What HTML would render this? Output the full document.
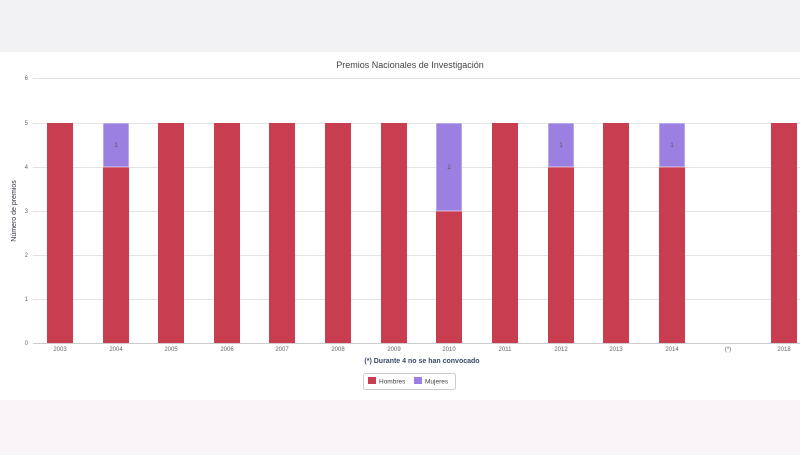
<!DOCTYPE html>
<html><head><meta charset="utf-8"><style>
body{margin:0;width:800px;height:450px;overflow:hidden;background:#f6f5f7;font-family:"Liberation Sans",sans-serif}
</style></head><body>
<svg width="800" height="450" xmlns="http://www.w3.org/2000/svg" font-family="Liberation Sans, sans-serif">
<rect x="0" y="0" width="800" height="52" fill="#f2f2f4"/>
<rect x="0" y="52" width="800" height="348" fill="#ffffff"/>
<rect x="0" y="400" width="800" height="50" fill="#f8f4f7"/>
<text x="410" y="68" font-size="9" fill="#444" text-anchor="middle">Premios Nacionales de Investigación</text>
<g stroke="#e3e3e3" stroke-width="1">
<line x1="33" x2="800" y1="78.5" y2="78.5"/><line x1="33" x2="800" y1="123.5" y2="123.5"/>
<line x1="33" x2="800" y1="167.5" y2="167.5"/><line x1="33" x2="800" y1="211.5" y2="211.5"/>
<line x1="33" x2="800" y1="255.5" y2="255.5"/><line x1="33" x2="800" y1="299.5" y2="299.5"/>
<line x1="33" x2="800" y1="343.5" y2="343.5" stroke="#ccc"/>
</g>
<g font-size="6" fill="#666" text-anchor="end">
<text x="28" y="80">6</text><text x="28" y="125">5</text><text x="28" y="169">4</text>
<text x="28" y="213">3</text><text x="28" y="257">2</text><text x="28" y="301">1</text><text x="28" y="345">0</text>
</g>
<text transform="translate(16,211) rotate(-90)" font-size="7" fill="#334" text-anchor="middle">Número de premios</text>
<g fill="#c93d50">
<rect x="47" y="123" width="26" height="220"/>
<rect x="103" y="167" width="26" height="176"/>
<rect x="158" y="123" width="26" height="220"/>
<rect x="214" y="123" width="26" height="220"/>
<rect x="269" y="123" width="26" height="220"/>
<rect x="325" y="123" width="26" height="220"/>
<rect x="381" y="123" width="26" height="220"/>
<rect x="436" y="211" width="26" height="132"/>
<rect x="492" y="123" width="26" height="220"/>
<rect x="548" y="167" width="26" height="176"/>
<rect x="603" y="123" width="26" height="220"/>
<rect x="659" y="167" width="26" height="176"/>
<rect x="771" y="123" width="26" height="220"/>
</g>
<g fill="#9b80e2" stroke="#fff" stroke-width="0.6">
<rect x="103" y="123" width="26" height="44"/>
<rect x="436" y="123" width="26" height="88"/>
<rect x="548" y="123" width="26" height="44"/>
<rect x="659" y="123" width="26" height="44"/>
</g>
<g font-size="6" fill="#555" text-anchor="middle">
<text x="116" y="147">1</text><text x="449" y="169">2</text><text x="561" y="147">1</text><text x="672" y="147">1</text>
</g>
<g font-size="6" fill="#666" text-anchor="middle">
<text x="60" y="351">2003</text><text x="116" y="351">2004</text><text x="171" y="351">2005</text>
<text x="227" y="351">2006</text><text x="282" y="351">2007</text><text x="338" y="351">2008</text>
<text x="394" y="351">2009</text><text x="449" y="351">2010</text><text x="505" y="351">2011</text>
<text x="561" y="351">2012</text><text x="616" y="351">2013</text><text x="672" y="351">2014</text>
<text x="728" y="351">(*)</text><text x="784" y="351">2018</text>
</g>
<text x="422" y="363" font-size="7" font-weight="bold" fill="#3a4a6a" text-anchor="middle">(*) Durante 4 no se han convocado</text>
<rect x="363.5" y="373.5" width="92" height="16" rx="2" fill="#fff" stroke="#ccc"/>
<rect x="368" y="377" width="8" height="7" fill="#c93d50"/>
<text x="379" y="383.5" font-size="6.5" fill="#444">Hombres</text>
<rect x="414" y="377" width="8" height="7" fill="#9b80e2"/>
<text x="425" y="383.5" font-size="6.5" fill="#444">Mujeres</text>
</svg>
</body></html>
